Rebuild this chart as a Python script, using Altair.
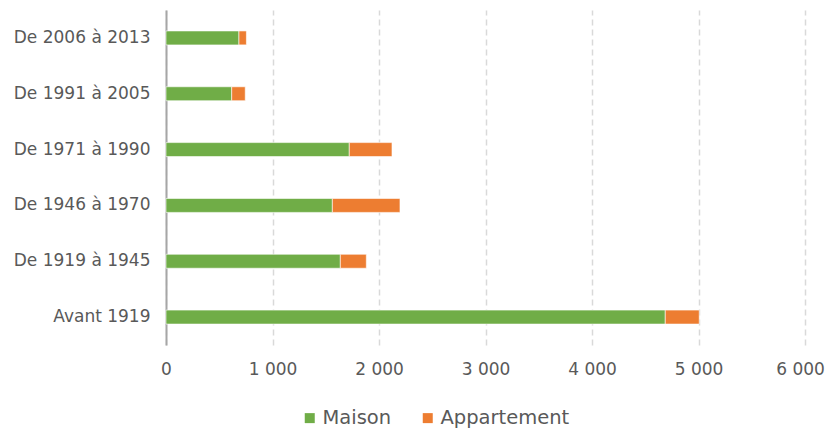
import altair as alt
import pandas as pd

categories = ["De 2006 à 2013", "De 1991 à 2005", "De 1971 à 1990",
              "De 1946 à 1970", "De 1919 à 1945", "Avant 1919"]
maison = [685, 617, 1721, 1562, 1637, 4688]
appartement = [70, 127, 401, 635, 244, 319]
series = ["Maison", "Appartement"]
colors = ["#70AD47", "#ED7D31"]

rows = []
for c, m, a in zip(categories, maison, appartement):
    rows.append({"cat": c, "type": "Maison", "val": m, "ord": 0})
    rows.append({"cat": c, "type": "Appartement", "val": a, "ord": 1})
df = pd.DataFrame(rows)

FONT = "Century Gothic, DejaVu Sans"

chart = alt.Chart(df).mark_bar(stroke="white", strokeWidth=0.6).encode(
    y=alt.Y("cat:N", sort=categories, title=None,
            scale=alt.Scale(paddingInner=0.75, paddingOuter=0.375),
            axis=alt.Axis(labelFontSize=17, labelColor="#595959", labelFont=FONT,
                          ticks=False, domainColor="#a6a6a6", domainWidth=2,
                          labelPadding=16, grid=False)),
    x=alt.X("val:Q", title=None, stack="zero",
            scale=alt.Scale(domain=[0, 6000], nice=False),
            axis=alt.Axis(values=[0, 1000, 2000, 3000, 4000, 5000, 6000],
                          labelExpr="replace(format(datum.value, ',d'), ',', ' ')",
                          labelFontSize=17, labelColor="#595959", labelFont=FONT,
                          labelFlush=False,
                          labelOffset=alt.ExprRef("datum.value == 6000 ? -5 : 0"),
                          ticks=False, domain=False, labelPadding=16,
                          grid=True, gridColor="#d9d9d9", gridDash=[6, 4], gridWidth=1.5)),
    color=alt.Color("type:N", scale=alt.Scale(domain=series, range=colors),
                    legend=alt.Legend(title=None, orient="none", direction="horizontal",
                                      legendX=134, legendY=398, symbolType="square",
                                      symbolSize=100, symbolStrokeWidth=0,
                                      labelFontSize=19.5, labelColor="#595959", labelFont=FONT,
                                      columnPadding=26, labelOffset=3)),
    order=alt.Order("ord:Q"),
).properties(
    width=639, height=335,
    autosize=alt.AutoSizeParams(type="none"),
    padding={"left": 158, "top": 2, "right": 20, "bottom": 84},
).configure_view(stroke=None)

chart.save("out.html", embed_options={"renderer": "svg", "actions": False})
